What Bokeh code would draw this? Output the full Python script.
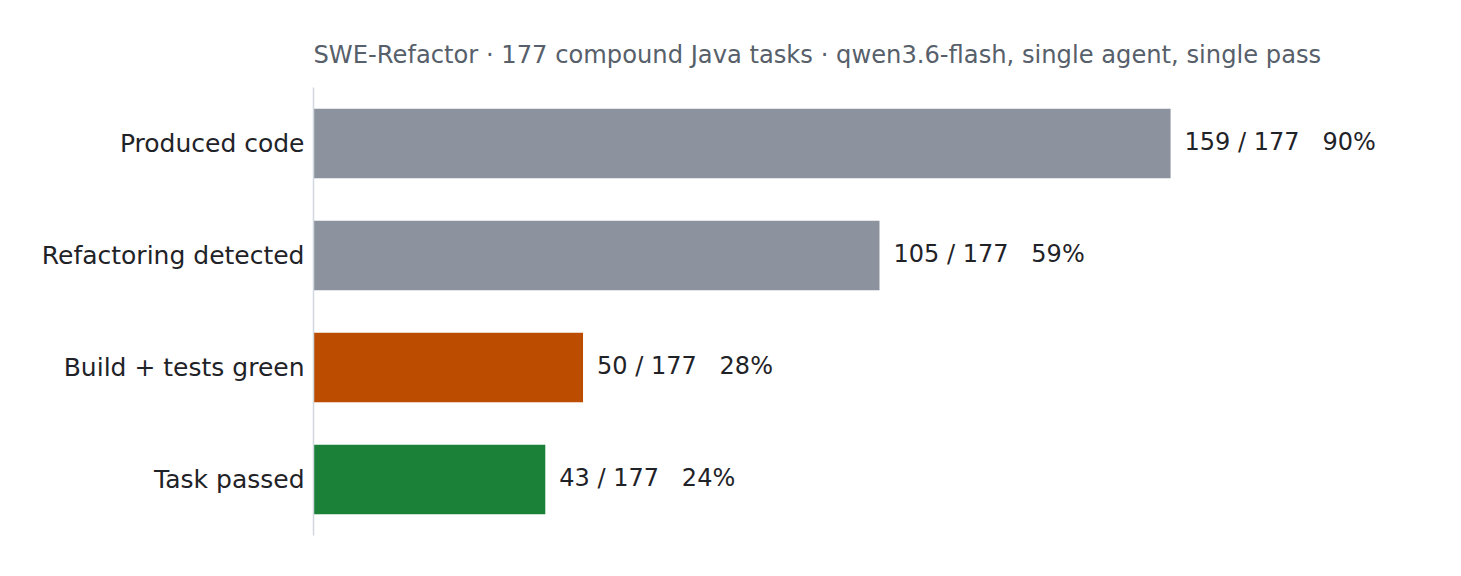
from bokeh.plotting import figure
from bokeh.models import ColumnDataSource, Range1d, FactorRange
from bokeh.core.properties import value
from bokeh.embed import file_html
from bokeh.resources import INLINE

categories = ["Produced code", "Refactoring detected", "Build + tests green", "Task passed"]
counts = [159, 105, 50, 43]
total = 177
title_text = "SWE-Refactor · 177 compound Java tasks · qwen3.6-flash, single agent, single pass"

bar_colors = ["#8c939e", "#8c939e", "#bc4c00", "#1b8139"]

# " \u00a0 " keeps three visible spaces (SVG collapses runs of plain spaces)
labels = [f"{c} / {total} \u00a0 {round(100 * c / total)}%" for c in counts]
src = ColumnDataSource(dict(cat=categories, n=counts, color=bar_colors, label=labels))

FONT = "DejaVu Sans"

p = figure(
    width=1445, height=560,
    y_range=FactorRange(factors=list(reversed(categories)), range_padding=0),
    x_range=Range1d(0, 210),
    output_backend="svg", toolbar_location=None,
    min_border_left=313, min_border_right=0, min_border_top=87, min_border_bottom=25,
    title=title_text,
)
p.title.text_font = FONT
p.title.text_font_size = "24.2px"
p.title.text_font_style = "normal"
p.title.text_color = "#57606a"
p.title.align = "left"
p.title.standoff = 38

p.hbar(y="cat", left=0, right="n", height=0.62, fill_color="color", line_color=None, source=src)
p.text(x="n", y="cat", text="label", x_offset=14, y_offset=-2, text_baseline="middle", text_align="left",
       text_font=value(FONT), text_font_size="24px", text_color="#1f2328", source=src)

p.outline_line_color = None
p.xgrid.visible = False
p.ygrid.visible = False
p.xaxis.visible = False
ax = p.yaxis[0]
ax.axis_line_color = "#d0d7de"
ax.axis_line_width = 1.5
ax.major_tick_line_color = None
ax.minor_tick_line_color = None
ax.major_tick_out = 0
ax.major_tick_in = 0
ax.major_label_standoff = 9
ax.major_label_text_font = FONT
ax.major_label_text_font_size = "25px"
ax.major_label_text_color = "#1f2328"
p.background_fill_color = "white"
p.border_fill_color = "white"

open("out.html", "w").write(file_html(p, INLINE))
